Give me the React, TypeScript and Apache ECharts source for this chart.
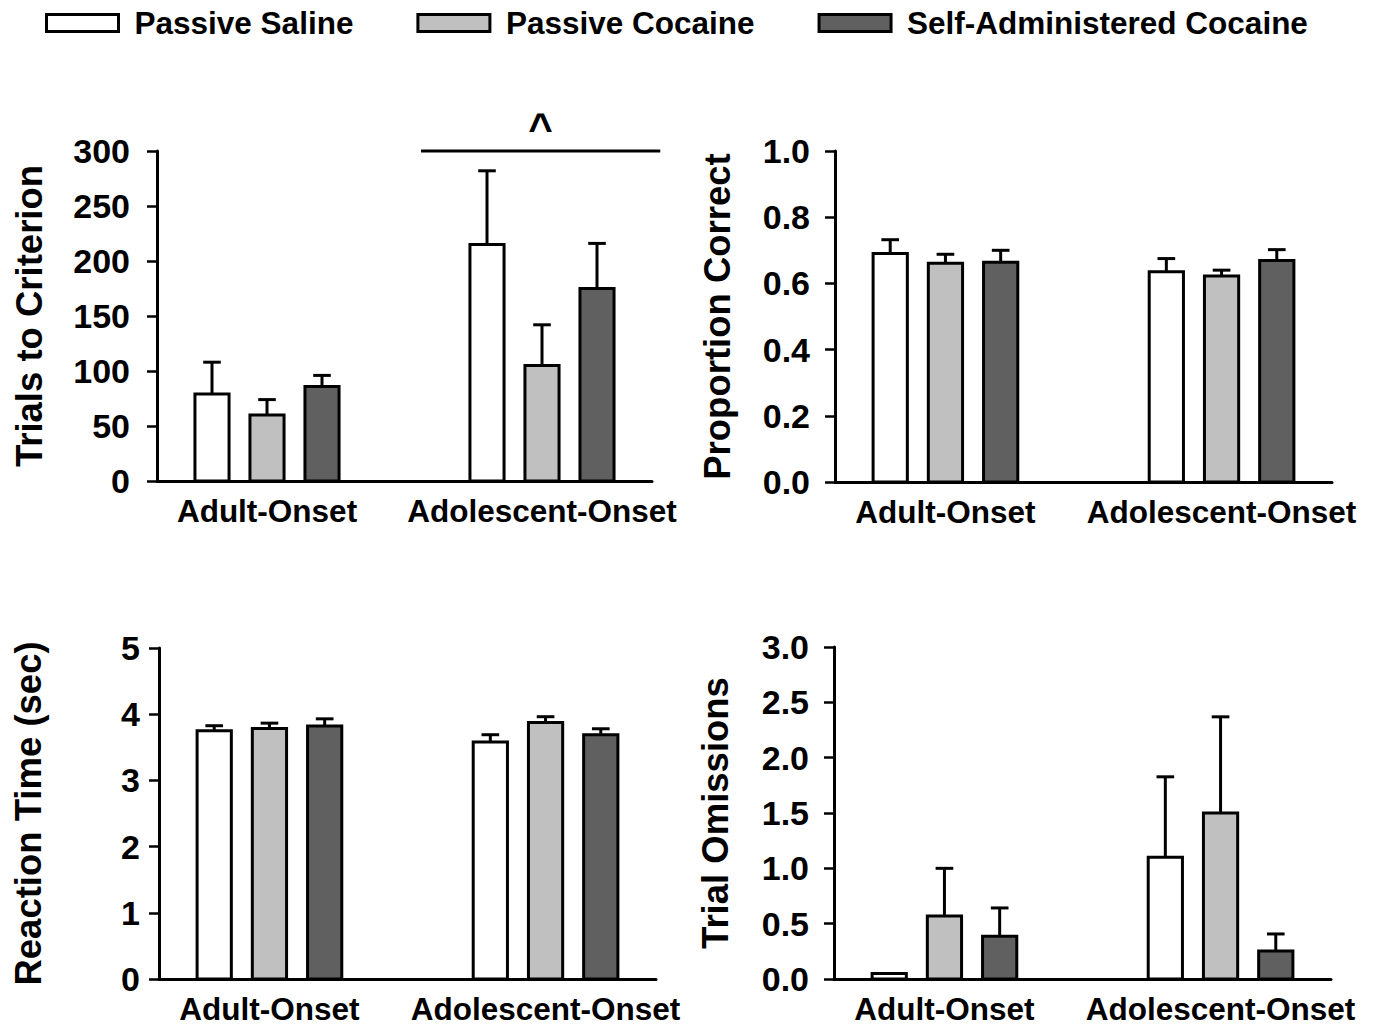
import React, { useEffect, useRef } from "react";
import * as echarts from "echarts";

// Groups and treatments
const GROUPS = ["Adult-Onset", "Adolescent-Onset"];
const TREATMENTS = ["Passive Saline", "Passive Cocaine", "Self-Administered Cocaine"];
const FILLS = ["#ffffff", "#c0c0c0", "#606060"];

// Slot of each treatment's bar on a 0..9 axis: [adult, adolescent]
const SLOTS = [
  [1, 6],
  [2, 7],
  [3, 8],
];
const GROUP_LABEL_SLOTS = [2, 7];

// Trials to criterion (mean, SEM) per treatment: [adult, adolescent]
const trialsMean = [
  [79, 215],
  [60, 105],
  [86, 175],
];
const trialsSem = [
  [29, 67],
  [14, 37],
  [10, 41],
];

// Proportion correct
const correctMean = [
  [0.69, 0.635],
  [0.661, 0.622],
  [0.664, 0.669],
];
const correctSem = [
  [0.042, 0.04],
  [0.027, 0.018],
  [0.036, 0.033],
];

// Reaction time (sec)
const rtMean = [
  [3.75, 3.58],
  [3.785, 3.876],
  [3.82, 3.69],
];
const rtSem = [
  [0.076, 0.11],
  [0.08, 0.086],
  [0.11, 0.09],
];

// Trial omissions
const omissionsMean = [
  [0.05, 1.1],
  [0.57, 1.5],
  [0.386, 0.253],
];
const omissionsSem = [
  [0, 0.727],
  [0.43, 0.869],
  [0.256, 0.154],
];

// Group-effect bracket on the trials panel: x span (slots), height, marker
const bracketSpan = [4.8, 9.15];
const bracketLevel = 300;
const bracketMark = "^";

const FONT = "'Liberation Sans', Arial, Helvetica, sans-serif";
const BAR_WIDTH = 0.62; // in slot units
const CAP_WIDTH = 0.32;

type Panel = {
  title: string;
  mean: number[][];
  sem: number[][];
  min: number;
  max: number;
  interval: number;
  decimals: number;
  grid: { left: number; top: number; width: number; height: number };
  nameGap: number;
  labelMargin: number;
};

const panels: Panel[] = [
  {
    title: "Trials to Criterion",
    mean: trialsMean,
    sem: trialsSem,
    min: 0,
    max: 300,
    interval: 50,
    decimals: 0,
    grid: { left: 157, top: 151, width: 495, height: 330 },
    nameGap: 109,
    labelMargin: 27,
  },
  {
    title: "Proportion Correct",
    mean: correctMean,
    sem: correctSem,
    min: 0,
    max: 1,
    interval: 0.2,
    decimals: 1,
    grid: { left: 835, top: 151, width: 497, height: 331 },
    nameGap: 99,
    labelMargin: 25,
  },
  {
    title: "Reaction Time (sec)",
    mean: rtMean,
    sem: rtSem,
    min: 0,
    max: 5,
    interval: 1,
    decimals: 0,
    grid: { left: 159, top: 648, width: 497, height: 331 },
    nameGap: 112,
    labelMargin: 19,
  },
  {
    title: "Trial Omissions",
    mean: omissionsMean,
    sem: omissionsSem,
    min: 0,
    max: 3,
    interval: 0.5,
    decimals: 1,
    grid: { left: 834, top: 647, width: 497, height: 332 },
    nameGap: 100,
    labelMargin: 25,
  },
];

function makeRenderer(fill: string) {
  return (_params: any, api: any) => {
    const x = api.value(0);
    const v = api.value(1);
    const e = api.value(2);
    const base = api.coord([x, 0]);
    const top = api.coord([x, v]);
    const errTop = api.coord([x, v + e]);
    const w = api.size([BAR_WIDTH, 0])[0];
    const cap = api.size([CAP_WIDTH, 0])[0];
    const cx = base[0];
    const children: any[] = [];
    if (e > 0) {
      children.push({
        type: "line",
        shape: { x1: cx, y1: top[1], x2: cx, y2: errTop[1] },
        style: { stroke: "#000", lineWidth: 3 },
      });
      children.push({
        type: "line",
        shape: { x1: cx - cap / 2, y1: errTop[1], x2: cx + cap / 2, y2: errTop[1] },
        style: { stroke: "#000", lineWidth: 3 },
      });
    }
    children.push({
      type: "rect",
      shape: { x: cx - w / 2, y: top[1], width: w, height: base[1] - top[1] },
      style: { fill, stroke: "#000", lineWidth: 3 },
    });
    return { type: "group", children };
  };
}

// Horizontal bracket with a centred marker above it
function renderBracket(_params: any, api: any) {
  const a = api.coord([api.value(0), api.value(2)]);
  const b = api.coord([api.value(1), api.value(2)]);
  return {
    type: "group",
    children: [
      {
        type: "line",
        shape: { x1: a[0], y1: a[1], x2: b[0], y2: b[1] },
        style: { stroke: "#000", lineWidth: 3 },
      },
      {
        type: "text",
        x: (a[0] + b[0]) / 2,
        y: a[1] - 2,
        style: {
          text: bracketMark,
          fill: "#000",
          fontSize: 42,
          fontWeight: "bold",
          fontFamily: FONT,
          align: "center",
          verticalAlign: "bottom",
        },
      },
    ],
  };
}

function buildOption() {
  const grid = panels.map((p) => ({ ...p.grid, containLabel: false }));

  const xAxis = panels.map((_, i) => ({
    gridIndex: i,
    type: "value",
    min: 0,
    max: 9,
    interval: 1,
    axisLine: { show: true, onZero: false, lineStyle: { color: "#000", width: 3 } },
    axisTick: { show: false },
    splitLine: { show: false },
    axisLabel: {
      margin: 15,
      color: "#000",
      fontSize: 31.5,
      lineHeight: 30,
      fontWeight: "bold",
      fontFamily: FONT,
      formatter: (v: number) => {
        const k = GROUP_LABEL_SLOTS.indexOf(v);
        return k >= 0 ? GROUPS[k] : "";
      },
    },
  }));

  const yAxis = panels.map((p, i) => ({
    gridIndex: i,
    type: "value",
    min: p.min,
    max: p.max,
    interval: p.interval,
    name: p.title,
    nameLocation: "middle",
    nameGap: p.nameGap,
    nameTextStyle: { color: "#000", fontSize: 36.5, fontWeight: "bold", fontFamily: FONT },
    axisLine: { show: true, onZero: false, lineStyle: { color: "#000", width: 3 } },
    axisTick: { show: true, inside: false, length: 10, lineStyle: { color: "#000", width: 2.5 } },
    splitLine: { show: false },
    axisLabel: {
      margin: p.labelMargin,
      color: "#000",
      fontSize: 34,
      fontWeight: "bold",
      fontFamily: FONT,
      formatter: (v: number) => v.toFixed(p.decimals),
    },
  }));

  const series: any[] = [];
  panels.forEach((p, pi) => {
    TREATMENTS.forEach((name, ti) => {
      series.push({
        type: "custom",
        name,
        xAxisIndex: pi,
        yAxisIndex: pi,
        clip: false,
        silent: true,
        itemStyle: { color: FILLS[ti], borderColor: "#000", borderWidth: 3 },
        encode: { x: 0, y: 1 },
        renderItem: makeRenderer(FILLS[ti]),
        data: p.mean[ti].map((m, gi) => [SLOTS[ti][gi], m, p.sem[ti][gi]]),
      });
    });
  });

  series.push({
    type: "custom",
    xAxisIndex: 0,
    yAxisIndex: 0,
    clip: false,
    silent: true,
    encode: { x: [0, 1], y: 2 },
    renderItem: renderBracket,
    data: [[bracketSpan[0], bracketSpan[1], bracketLevel]],
  });

  return {
    animation: false,
    backgroundColor: "#ffffff",
    legend: {
      left: 40,
      top: 2,
      itemWidth: 72,
      itemHeight: 17,
      itemGap: 63,
      selectedMode: false,
      textStyle: {
        color: "#000",
        fontSize: 31.5,
        fontWeight: "bold",
        fontFamily: FONT,
        padding: [0, 0, 0, 11],
      },
      data: TREATMENTS.map((name, i) => ({
        name,
        icon: "rect",
        itemStyle: { color: FILLS[i], borderColor: "#000", borderWidth: 3 },
      })),
    },
    grid,
    xAxis,
    yAxis,
    series,
  };
}

export default function App() {
  const ref = useRef<HTMLDivElement>(null);
  useEffect(() => {
    if (!ref.current) return;
    const chart = echarts.init(ref.current, undefined, { renderer: "svg" });
    chart.setOption(buildOption() as any);
    return () => chart.dispose();
  }, []);
  return (
    <div
      ref={ref}
      style={{ position: "fixed", left: 0, top: 0, width: 1376, height: 1026, background: "#fff" }}
    />
  );
}
